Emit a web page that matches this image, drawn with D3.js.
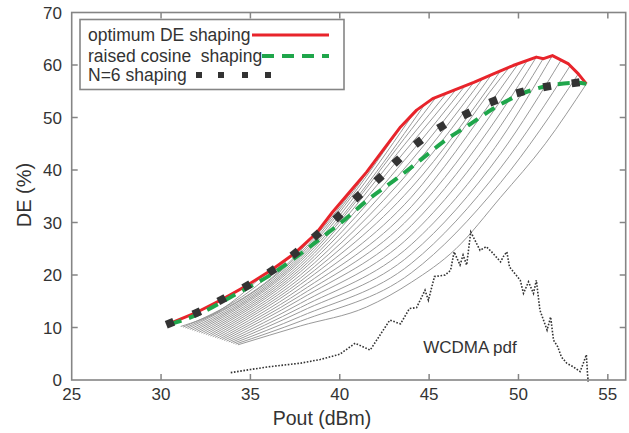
<!DOCTYPE html>
<html><head><meta charset="utf-8">
<script src="https://cdn.jsdelivr.net/npm/d3@7"></script>
<style>
html,body{margin:0;padding:0;background:#fff;}
svg text{font-family:"Liberation Sans",Arial,sans-serif;fill:#333;white-space:pre;}
</style></head>
<body><svg id="c" width="629" height="433"></svg>
<script>
const xTicks = [25, 30, 35, 40, 45, 50, 55];
const yTicks = [0, 10, 20, 30, 40, 50, 60, 70];
const legendLabels = ["optimum DE shaping", "raised cosine  shaping", "N=6 shaping"];

const optimumDE = [[30.5,10.8],[32.0,12.9],[33.4,15.3],[34.8,18.0],[36.2,21.0],[37.5,24.2],[38.7,28.0],[39.6,32.0],[40.6,36.0],[41.5,39.6],[42.4,43.7],[43.4,48.2],[44.3,51.4],[45.2,53.6],[46.4,55.2],[47.5,56.7],[48.6,58.3],[49.7,59.9],[51.0,61.5],[51.4,61.2],[51.9,61.8],[52.8,60.2],[53.35,58.3],[53.8,56.4]];

const raisedCosine = [[30.5,10.6],[32.0,12.4],[34.0,16.0],[36.3,20.4],[38.1,24.8],[39.1,27.4],[40.3,30.6],[41.6,34.4],[43.2,38.4],[44.7,42.4],[46.0,45.9],[47.1,48.3],[48.6,51.7],[50.1,54.4],[51.6,56.0],[53.3,56.6],[53.8,56.4]];

const n6Shaping = [[30.5,10.8],[32.0,12.8],[33.4,15.3],[34.8,17.9],[36.2,20.8],[37.5,24.1],[38.7,27.6],[39.9,31.1],[41.0,34.9],[42.2,38.4],[43.2,41.7],[44.4,45.3],[45.7,48.3],[47.1,50.7],[48.6,53.1],[50.1,54.8],[51.6,55.9],[53.2,56.6]];

const wcdmaPdf = [[33.9,1.4],[35.0,2.0],[36.0,2.5],[37.0,2.9],[37.8,3.2],[38.9,3.9],[40.0,4.9],[40.86,7.0],[41.7,5.7],[42.8,11.4],[43.4,10.7],[43.9,13.6],[44.3,13.8],[44.77,17.1],[44.96,15.2],[45.3,19.7],[45.9,20.0],[46.2,20.9],[46.4,24.4],[46.73,21.9],[46.9,23.8],[47.1,21.9],[47.33,28.2],[47.85,24.7],[48.2,25.4],[48.5,24.4],[49.0,22.5],[49.15,23.5],[49.35,24.4],[49.5,21.5],[50.1,19.0],[50.28,16.5],[50.56,18.7],[50.84,16.5],[51.0,19.0],[51.2,13.3],[51.6,9.5],[51.8,12.0],[51.96,7.6],[52.2,6.3],[52.4,4.4],[52.7,3.2],[53.07,2.5],[53.45,1.6],[53.63,3.2],[53.8,4.8],[53.86,1.3],[53.9,-0.3]];

const grayCurves = [
 [[31.10,10.20],[33.3,13.3],[35.5,19.3]],
 [[31.23,10.06],[34.5,15.8],[37.8,25.2]],
 [[31.36,9.92],[37.8,24.6],[39.8,32.8]],
 [[31.48,9.78],[37.8,24.2],[41.4,39.2]],
 [[31.61,9.64],[37.8,23.8],[42.6,44.6]],
 [[31.74,9.50],[37.8,23.4],[43.5,48.6]],
 [[31.87,9.36],[37.8,23.0],[44.2,51.1]],
 [[32.00,9.22],[37.8,22.6],[44.0,48.8],[44.8,52.7]],
 [[32.12,9.08],[37.8,22.1],[44.0,47.7],[45.4,53.9]],
 [[32.25,8.94],[37.8,21.6],[44.0,46.4],[46.0,54.7]],
 [[32.38,8.80],[37.8,21.1],[44.0,45.0],[46.5,55.3]],
 [[32.51,8.66],[37.8,20.6],[44.0,43.4],[47.0,56.0]],
 [[32.64,8.52],[37.8,20.0],[44.0,41.8],[47.5,56.7]],
 [[32.76,8.38],[37.8,19.4],[44.0,40.1],[48.0,57.4]],
 [[32.89,8.24],[37.8,18.8],[44.0,38.4],[48.5,58.2]],
 [[33.02,8.10],[37.8,18.2],[44.0,36.6],[49.0,58.9]],
 [[33.15,7.96],[37.8,17.5],[44.0,34.8],[49.0,57.5],[49.5,59.6]],
 [[33.28,7.82],[37.8,16.8],[44.0,33.0],[49.0,55.5],[50.0,60.3]],
 [[33.40,7.68],[37.8,16.1],[44.0,31.2],[49.0,53.2],[50.5,60.9]],
 [[33.53,7.54],[37.8,15.4],[44.0,29.4],[49.0,50.9],[51.0,61.5]],
 [[33.66,7.40],[37.8,14.6],[44.0,27.6],[49.0,48.4],[51.4,61.3]],
 [[33.79,7.26],[37.8,13.8],[44.0,25.8],[49.0,45.8],[51.9,61.8]],
 [[33.92,7.12],[37.8,13.0],[44.0,24.0],[49.0,43.1],[52.4,61.0]],
 [[34.04,6.98],[37.8,12.1],[44.0,22.2],[49.0,40.4],[52.9,59.9]],
 [[34.17,6.84],[37.8,11.2],[44.0,20.4],[49.0,37.6],[53.35,58.3]],
 [[34.30,6.70],[37.8,10.3],[41.5,13.9],[44.0,18.6],[46.5,25.0],[49.0,34.8],[51.5,45.0],[53.8,56.4]]
];

const svg = d3.select("#c");
const x = d3.scaleLinear().domain([25, 56]).range([71.7, 625.7]);
const y = d3.scaleLinear().domain([0, 70]).range([380, 12.5]);
const frameColor = "#858585";
const RED = "#e8242b", GREEN = "#1fa64b", DARK = "#333";

const line = d3.line().x(d => x(d[0])).y(d => y(d[1])).curve(d3.curveMonotoneX);
const lineLin = d3.line().x(d => x(d[0])).y(d => y(d[1]));

// gray family
svg.append("g").selectAll("path").data(grayCurves).join("path")
  .attr("d", line).attr("fill", "none").attr("stroke", "#939393").attr("stroke-width", 0.95);

// WCDMA pdf
svg.append("path").attr("d", lineLin(wcdmaPdf)).attr("fill", "none")
  .attr("stroke", DARK).attr("stroke-width", 1.6).attr("stroke-dasharray", "1.6,1.6");

// red
svg.append("path").attr("d", lineLin(optimumDE)).attr("fill", "none")
  .attr("stroke", RED).attr("stroke-width", 3).attr("stroke-linejoin", "round");
// green
svg.append("path").attr("d", line(raisedCosine)).attr("fill", "none")
  .attr("stroke", GREEN).attr("stroke-width", 4).attr("stroke-dasharray", "12,8");

// squares
svg.append("g").selectAll("rect").data(n6Shaping).join("rect")
  .attr("x", -4).attr("y", -4).attr("width", 8).attr("height", 8).attr("fill", DARK)
  .attr("transform", (d, i) => {
    const a = n6Shaping[Math.max(0, i - 1)], b = n6Shaping[Math.min(n6Shaping.length - 1, i + 1)];
    const ang = Math.atan2(y(b[1]) - y(a[1]), x(b[0]) - x(a[0])) * 180 / Math.PI;
    return `translate(${x(d[0])},${y(d[1])}) rotate(${ang})`;
  });

// frame
const g = svg.append("g");
g.append("rect").attr("x", x(25)).attr("y", y(70)).attr("width", x(56) - x(25)).attr("height", y(0) - y(70))
  .attr("fill", "none").attr("stroke", frameColor).attr("stroke-width", 1.6);

const tl = 6;
xTicks.forEach(t => {
  if (t > 25) {
    g.append("line").attr("x1", x(t)).attr("x2", x(t)).attr("y1", y(0)).attr("y2", y(0) - tl).attr("stroke", frameColor).attr("stroke-width", 1.5);
    g.append("line").attr("x1", x(t)).attr("x2", x(t)).attr("y1", y(70)).attr("y2", y(70) + tl).attr("stroke", frameColor).attr("stroke-width", 1.5);
  }
  g.append("text").attr("x", x(t)).attr("y", 400).attr("text-anchor", "middle").attr("font-size", 17).text(t);
});
yTicks.forEach(t => {
  if (t > 0 && t < 70) {
    g.append("line").attr("x1", x(25)).attr("x2", x(25) + tl).attr("y1", y(t)).attr("y2", y(t)).attr("stroke", frameColor).attr("stroke-width", 1.5);
    g.append("line").attr("x1", x(56)).attr("x2", x(56) - tl).attr("y1", y(t)).attr("y2", y(t)).attr("stroke", frameColor).attr("stroke-width", 1.5);
  }
  g.append("text").attr("x", 62).attr("y", y(t)).attr("dy", "0.36em").attr("text-anchor", "end").attr("font-size", 17).text(t);
});

// axis titles
svg.append("text").attr("x", 322).attr("y", 425).attr("text-anchor", "middle").attr("font-size", 19.5).text("Pout (dBm)");
svg.append("text").attr("transform", "translate(31,195) rotate(-90)").attr("text-anchor", "middle").attr("font-size", 20).text("DE (%)");

// WCDMA label
svg.append("text").attr("x", 470).attr("y", 353).attr("text-anchor", "middle").attr("font-size", 17).text("WCDMA pdf");

// legend
const lg = svg.append("g");
lg.append("rect").attr("x", 80).attr("y", 19.5).attr("width", 264).attr("height", 70)
  .attr("fill", "#fff").attr("stroke", frameColor).attr("stroke-width", 1.6);
const rowsY = [35, 56, 75];
legendLabels.forEach((s, i) => {
  lg.append("text").attr("x", 88).attr("y", rowsY[i]).attr("dy", "0.35em").attr("font-size", 17.5).text(s);
});
lg.append("line").attr("x1", 252).attr("x2", 329).attr("y1", rowsY[0]).attr("y2", rowsY[0]).attr("stroke", RED).attr("stroke-width", 3);
lg.append("line").attr("x1", 262).attr("x2", 329).attr("y1", rowsY[1]).attr("y2", rowsY[1]).attr("stroke", GREEN).attr("stroke-width", 4).attr("stroke-dasharray", "12,8");
[199, 221, 245, 268].forEach(px => {
  lg.append("rect").attr("x", px - 3).attr("y", rowsY[2] - 3).attr("width", 6).attr("height", 6).attr("fill", DARK);
});
</script></body></html>
